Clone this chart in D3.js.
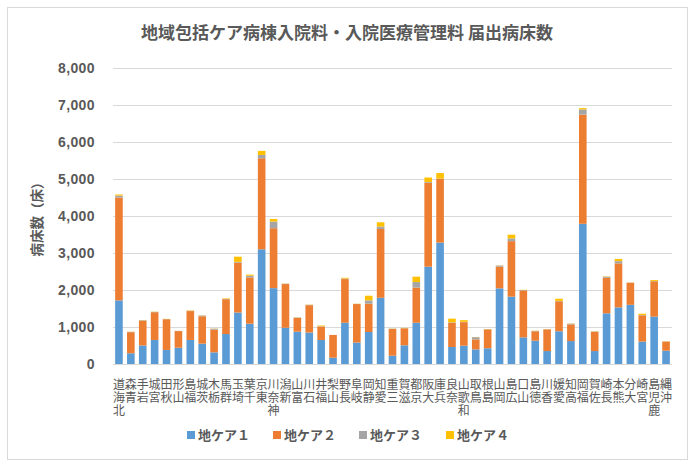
<!DOCTYPE html>
<html>
<head>
<meta charset="utf-8">
<script src="https://cdn.jsdelivr.net/npm/d3@7"></script>
<style>
  body { margin: 0; background: #fff; }
  svg text { fill: #595959; }
</style>
</head>
<body>
<svg id="chart"></svg>
<script>
const prefectures = ["北海道","青森","岩手","宮城","秋田","山形","福島","茨城","栃木","群馬",
  "埼玉","千葉","東京","神奈川","新潟","富山","石川","福井","山梨","長野",
  "岐阜","静岡","愛知","三重","滋賀","京都","大阪","兵庫","奈良","和歌山",
  "鳥取","島根","岡山","広島","山口","徳島","香川","愛媛","高知","福岡",
  "佐賀","長崎","熊本","大分","宮崎","鹿児島","沖縄"]

const seriesNames = ["地ケア１","地ケア２","地ケア３","地ケア４"]

const care1 = [1720,290,500,650,380,440,650,550,315,810,
  1390,1090,3100,2050,980,875,850,650,170,1115,
  580,865,1790,225,505,1115,2630,3280,460,495,
  395,425,2045,1820,720,630,350,885,620,3790,
  350,1370,1530,1600,605,1280,360]
const care2 = [2780,570,670,750,830,450,780,740,615,940,
  1350,1250,2460,1620,1180,370,740,360,615,1180,
  1040,765,1860,720,460,950,2270,1720,650,635,
  270,510,585,1500,1270,255,585,810,450,2950,
  520,960,1190,595,710,955,245]
const care3 = [50,10,15,10,5,5,10,20,25,10,
  20,45,90,180,10,10,10,10,0,15,
  5,90,65,10,5,150,20,10,15,10,
  60,5,30,75,10,10,5,10,20,140,
  10,30,60,5,10,10,5]
const care4 = [30,5,5,5,5,0,10,5,5,15,
  140,30,110,70,5,5,5,20,0,20,
  5,125,115,5,5,145,120,150,100,45,
  5,5,5,100,5,5,5,60,5,35,
  5,10,60,5,35,25,5]

const yTicks = [0,1000,2000,3000,4000,5000,6000,7000,8000]
const colors = ["#5B9BD5","#ED7D31","#A5A5A5","#FFC000"]

const width = 695
const height = 467
const margin = { left: 113, right: 23, top: 68, bottom: 103 }

const svg = d3.select("#chart")
              .attr("width", width)
              .attr("height", height)
              .attr("font-family", "'Noto Sans CJK JP', sans-serif")

svg.append("rect")
   .attr("x", 7.5).attr("y", 7.5)
   .attr("width", 680).attr("height", 452)
   .attr("fill", "#fff")
   .attr("stroke", "#d9d9d9")

const rows = prefectures.map((p, i) => ({
  pref: p, s0: care1[i], s1: care2[i], s2: care3[i], s3: care4[i]
}))

const stack = d3.stack().keys(["s0","s1","s2","s3"])
const stacked = stack(rows)

const x = d3.scaleBand()
            .domain(prefectures)
            .range([margin.left, width - margin.right])
            .paddingInner(0.36)
            .paddingOuter(0.18)

const y = d3.scaleLinear()
            .domain([0, 8000])
            .range([height - margin.bottom, margin.top])

// grid lines
svg.append("g")
   .selectAll("line")
   .data(yTicks)
   .join("line")
   .attr("x1", margin.left)
   .attr("x2", width - margin.right)
   .attr("y1", d => Math.round(y(d)) + 0.5)
   .attr("y2", d => Math.round(y(d)) + 0.5)
   .attr("stroke", "#d9d9d9")

// y tick labels
svg.append("g")
   .selectAll("text")
   .data(yTicks)
   .join("text")
   .attr("x", 95)
   .attr("y", d => y(d))
   .attr("dy", "0.35em")
   .attr("text-anchor", "end")
   .attr("font-family", "'Liberation Sans', Arial, sans-serif")
   .attr("font-size", 14)
   .attr("font-weight", "bold")
   .attr("letter-spacing", 0.4)
   .text(d => d3.format(",")(d))

// bars
svg.append("g")
   .selectAll("g")
   .data(stacked)
   .join("g")
   .attr("fill", (d, i) => colors[i])
   .selectAll("rect")
   .data(d => d)
   .join("rect")
   .attr("x", d => x(d.data.pref))
   .attr("width", x.bandwidth())
   .attr("y", d => y(d[1]))
   .attr("height", d => Math.max(0, y(d[0]) - y(d[1])))

// x labels: upright glyphs stacked bottom-to-top
const xLab = svg.append("g")
prefectures.forEach(p => {
  const chars = Array.from(p)
  const cx = x(p) + x.bandwidth() / 2
  chars.forEach((c, j) => {
    const k = chars.length - 1 - j
    xLab.append("text")
        .attr("x", cx)
        .attr("y", 389 + k * 13)
        .attr("text-anchor", "middle")
        .attr("font-size", 12)
        .text(c)
  })
})

// y axis title
svg.append("text")
   .attr("transform", "translate(42," + ((margin.top + height - margin.bottom) / 2) + ") rotate(-90)")
   .attr("text-anchor", "middle")
   .attr("font-size", 13.5)
   .attr("font-weight", "bold")
   .text("病床数（床）")

// title
svg.append("text")
   .attr("x", 347)
   .attr("y", 39)
   .attr("text-anchor", "middle")
   .attr("font-size", 17)
   .attr("font-weight", "bold")
   .text("地域包括ケア病棟入院料・入院医療管理料 届出病床数")

// legend
const legendX = [187, 273, 359, 446]
const legend = svg.append("g")
                  .selectAll("g")
                  .data(seriesNames)
                  .join("g")
                  .attr("transform", (d, i) => "translate(" + legendX[i] + ",435)")

legend.append("rect")
      .attr("x", 0).attr("y", -4)
      .attr("width", 8).attr("height", 8)
      .attr("fill", (d, i) => colors[i])

legend.append("text")
      .attr("x", 11)
      .attr("dy", "0.36em")
      .attr("font-size", 13)
      .attr("font-weight", "bold")
      .text(d => d)
</script>
</body>
</html>
